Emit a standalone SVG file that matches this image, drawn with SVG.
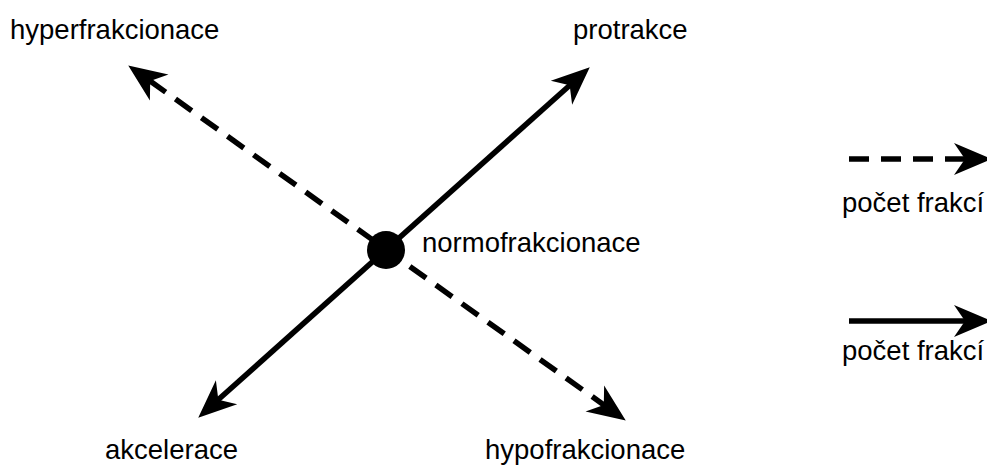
<svg xmlns="http://www.w3.org/2000/svg" width="987" height="466" viewBox="0 0 987 466">
<style>
.lbl{font-family:"Liberation Sans",Arial,sans-serif;font-size:27.5px;fill:#000}
.ln{fill:none;stroke:#000;stroke-width:5.5}
.dash{stroke-dasharray:20 12}
</style>
<defs>
<marker id="arr" markerUnits="userSpaceOnUse" markerWidth="42" markerHeight="36" viewBox="0 -18 42 36" refX="12" refY="0" orient="auto-start-reverse" overflow="visible">
<path d="M38,0 L0,-16 L11,0 L0,16 Z" fill="#000"/>
</marker>
</defs>
<rect width="987" height="466" fill="#fff"/>
<g id="connectors">
<path class="ln dash" d="M149.4,80.5 L604.6,405.5" marker-start="url(#arr)" marker-end="url(#arr)"/>
<path class="ln" d="M570.4,84.7 L217.6,400.3" marker-start="url(#arr)" marker-end="url(#arr)"/>
</g>
<g id="center">
<circle cx="386" cy="250" r="19" fill="#000"/>
<text class="lbl" x="422" y="251.5">normofrakcionace</text>
</g>
<g id="hyperfrakcionace"><text class="lbl" x="10" y="39">hyperfrakcionace</text></g>
<g id="protrakce"><text class="lbl" x="573" y="38.5">protrakce</text></g>
<g id="akcelerace"><text class="lbl" x="105" y="459">akcelerace</text></g>
<g id="hypofrakcionace"><text class="lbl" x="485" y="459">hypofrakcionace</text></g>
<g id="legend">
<path class="ln dash" d="M849,159 L966,159" marker-end="url(#arr)"/>
<text class="lbl" x="842" y="211.5">počet frakcí</text>
<path class="ln" d="M849,321 L966,321" marker-end="url(#arr)"/>
<text class="lbl" x="842" y="360">počet frakcí</text>
</g>
</svg>
